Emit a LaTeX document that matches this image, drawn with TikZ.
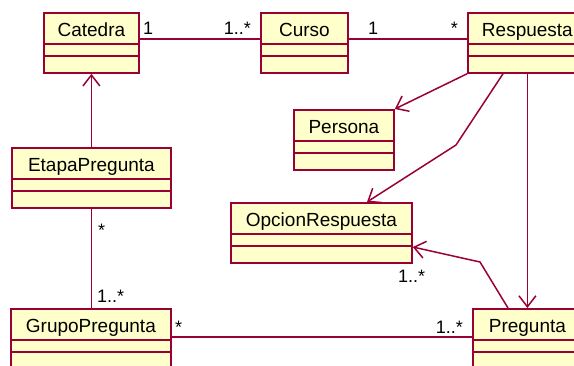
\documentclass[tikz,border=0pt]{standalone}
\usepackage{fontspec}
\setmainfont{Liberation Sans}
\usetikzlibrary{arrows.meta}
\definecolor{umlline}{RGB}{153,0,51}
\definecolor{umlfill}{RGB}{255,255,204}
\tikzset{
  classbox/.style={draw=umlline, fill=umlfill, line width=1.8pt, anchor=north west, minimum height=60pt, inner sep=0pt},
  classname/.style={anchor=base, inner sep=0pt, font=\fontsize{19}{21}\selectfont},
  assoc/.style={draw=umlline, line width=1.5pt},
  nav/.style={assoc, -{Straight Barb[length=11pt, width=17pt, line width=1.5pt]}},
  mult/.style={inner sep=0pt, font=\fontsize{18}{20}\selectfont}
}
\newcommand{\umlclass}[5]{%
  \node[classbox, minimum width=#4pt] (#1) at (#2,#3) {};
  \draw[umlline, line width=1.2pt] ([yshift=-32pt]#1.north west) -- ([yshift=-32pt]#1.north east);
  \draw[umlline, line width=1.2pt] ([yshift=-44pt]#1.north west) -- ([yshift=-44pt]#1.north east);
  \node[classname] (#1-name) at ([yshift=-24pt]#1.north) {#5};
}

\begin{document}
\begin{tikzpicture}[x=1pt, y=-1pt]
    \useasboundingbox (0,0) rectangle (574,365);
    \clip (0,0) rectangle (574,365);
    \umlclass{catedra}{43}{12}{95}{Catedra}
    \umlclass{curso}{260}{12}{87}{Curso}
    \umlclass{respuesta}{467}{12}{119}{Respuesta}
    \umlclass{persona}{293}{109}{100}{Persona}
    \umlclass{etapa}{11}{147}{159}{EtapaPregunta}
    \umlclass{opcion}{230}{202}{181}{OpcionRespuesta}
    \umlclass{grupo}{10}{308}{160}{GrupoPregunta}
    \umlclass{pregunta}{472}{308}{109}{Pregunta}
    \coordinate (bendA) at (456,145);
    \coordinate (bendB) at (480,262);
    \draw [assoc] ([yshift=4pt]catedra.east) -- ([yshift=4pt]curso.west);
    \draw [assoc] ([yshift=4pt]curso.east) -- ([yshift=4pt]respuesta.west);
    \draw [nav] (respuesta.south west) -- (persona.north east);
    \draw [nav] ([xshift=36pt]respuesta.south west) -- (bendA) -- ([xshift=137pt]opcion.north west);
    \draw [nav] (respuesta.south) -- (pregunta.north);
    \draw [nav] ([xshift=36pt]pregunta.north west) -- (bendB) -- ([yshift=-45pt]opcion.north east);
    \draw [nav] (etapa.north) -- (catedra.south);
    \draw [assoc] (etapa.south) -- (etapa.south |- grupo.north);
    \draw [assoc] ([yshift=-29pt]grupo.north east) -- ([yshift=-29pt]pregunta.north west);
    \node at (143,34) [mult, anchor=base west] (m1) {1};
    \node at (251,34) [mult, anchor=base east] (m2) {1..*};
    \node at (368,34) [mult, anchor=base west] (m3) {1};
    \node at (458,34) [mult, anchor=base east] (m4) {*};
    \node at (98,236) [mult, anchor=base west] (m5) {*};
    \node at (97,302) [mult, anchor=base west] (m6) {1..*};
    \node at (175,333) [mult, anchor=base west] (m7) {*};
    \node at (463,333) [mult, anchor=base east] (m8) {1..*};
    \node at (398,282) [mult, anchor=base west] (m9) {1..*};
\end{tikzpicture}
\end{document}
